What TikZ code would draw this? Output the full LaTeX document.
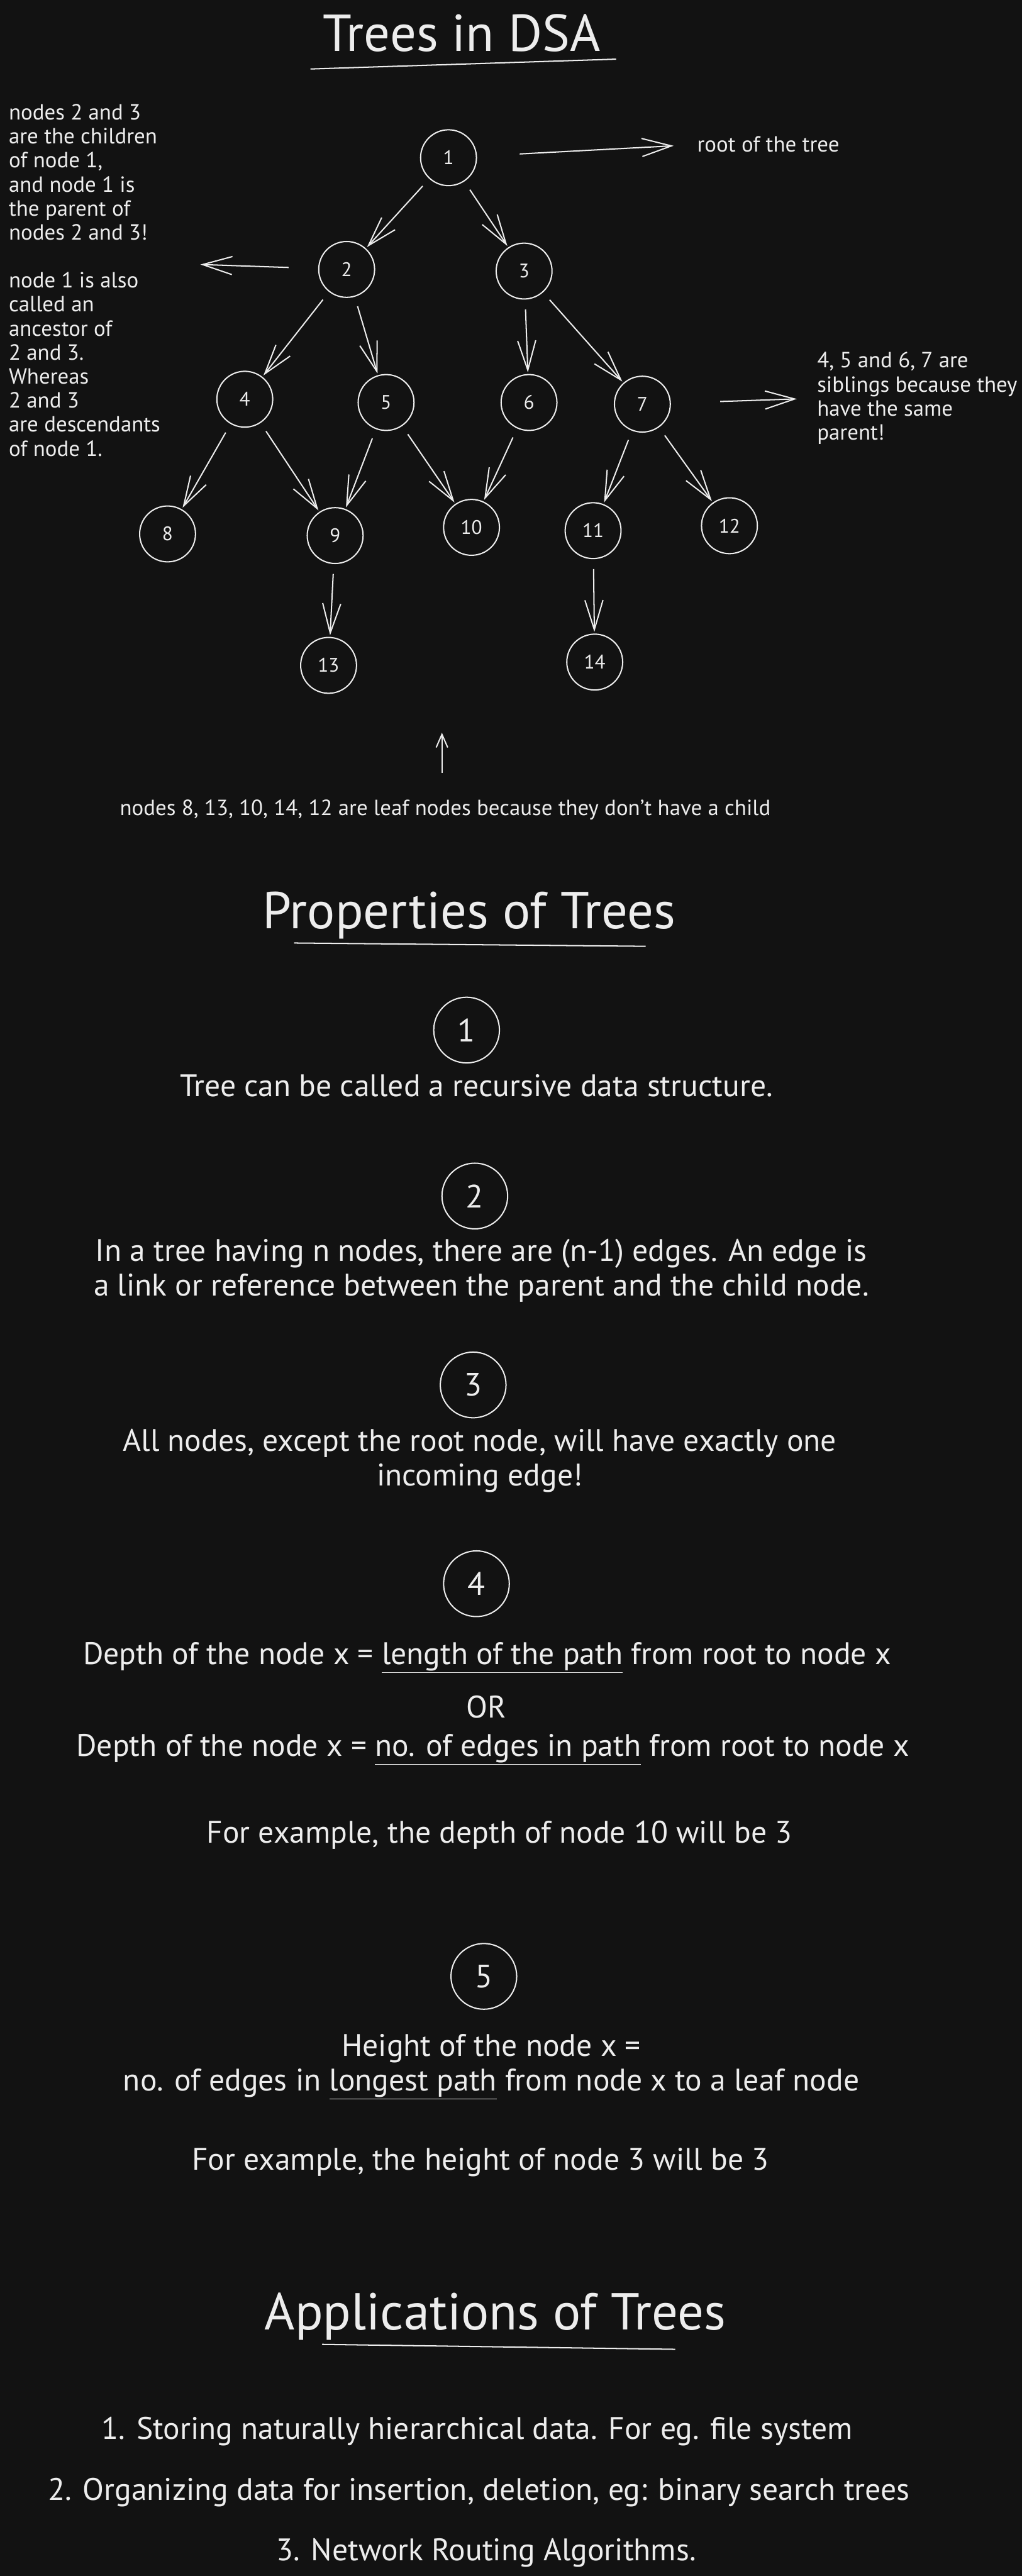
\documentclass[tikz,border=0pt]{standalone}
\usepackage{fontspec}
\setmainfont{PT Sans}
\usetikzlibrary{arrows.meta}
\definecolor{board}{HTML}{121212}
\definecolor{chalk}{HTML}{EDEDED}
\begin{document}
\begin{tikzpicture}[x=0.5mm, y=-0.5mm, line width=1.1pt, chalk,
    >={Straight Barb[length=9mm, width=5.5mm]},
    tnode/.style={circle, draw, minimum size=17mm, inner sep=0pt, font=\fontsize{17}{19}\selectfont},
    pnode/.style={circle, draw, minimum size=20mm, inner sep=0pt, font=\fontsize{28}{30}\selectfont},
    link/.style={->, shorten <=3mm, shorten >=0.5mm},
    note/.style={align=left, inner sep=0pt, font=\fontsize{19}{20.8}\selectfont},
    prop/.style={align=center, inner sep=0pt, font=\fontsize{27}{30}\selectfont},
    heading/.style={inner sep=0pt, font=\fontsize{45}{48}\selectfont}]
  \useasboundingbox[fill=board] (0,0) rectangle (622,1568);

  \node[heading] (treeTitle) at (281,20) {Trees in DSA};
  \draw (189,42) -- (375,36);

  \node[tnode] (n1) at (273,96) {1};
  \node[tnode] (n2) at (211,164) {2};
  \node[tnode] (n3) at (319,165) {3};
  \node[tnode] (n4) at (149,243) {4};
  \node[tnode] (n5) at (235,245) {5};
  \node[tnode] (n6) at (322,245) {6};
  \node[tnode] (n7) at (391,246) {7};
  \node[tnode] (n8) at (102,325) {8};
  \node[tnode] (n9) at (204,326) {9};
  \node[tnode] (n10) at (287,321) {10};
  \node[tnode] (n11) at (361,323) {11};
  \node[tnode] (n12) at (444,320) {12};
  \node[tnode] (n13) at (200,405) {13};
  \node[tnode] (n14) at (362,403) {14};

  \draw[link] (n1) -- (n2);
  \draw[link] (n1) -- (n3);
  \draw[link] (n2) -- (n4);
  \draw[link] (n2) -- (n5);
  \draw[link] (n3) -- (n6);
  \draw[link] (n3) -- (n7);
  \draw[link] (n4) -- (n8);
  \draw[link] (n4) -- (n9);
  \draw[link] (n5) -- (n9);
  \draw[link] (n5) -- (n10);
  \draw[link] (n6) -- (n10);
  \draw[link] (n7) -- (n11);
  \draw[link] (n7) -- (n12);
  \draw[link] (n9) -- (n13);
  \draw[link] (n11) -- (n14);

  \node[note, anchor=west] (rootNote) at (424,88) {root of the tree};
  \draw[->, shorten <=13mm, shorten >=7mm] (n1) -- (rootNote.west);

  \node[note, anchor=north west] (kinNote) at (5,63) {nodes 2 and 3\\are the children\\of node 1,\\and node 1 is\\the parent of\\nodes 2 and 3!\\[20.8pt]node 1 is also\\called an\\ancestor of\\2 and 3.\\Whereas\\2 and 3\\are descendants\\of node 1.};
  \coordinate (kinTip) at (122,161);
  \draw[->, shorten <=9mm] (n2) -- (kinTip);

  \node[note, anchor=north west] (sibNote) at (497,214) {4, 5 and 6, 7 are\\siblings because they\\have the same\\parent!};
  \draw[->, shorten <=15mm, shorten >=6mm] (n7) -- (sibNote.west);

  \node[note] (leafNote) at (271,493) {nodes 8, 13, 10, 14, 12 are leaf nodes because they don't have a child};
  \coordinate (leafTip) at (269,446);
  \draw[-{Straight Barb[length=4mm, width=3.5mm]}, shorten <=8mm] (leafNote.north -| leafTip) -- (leafTip);

  \node[heading] (propTitle) at (285.5,557) {Properties of Trees};
  \draw (179,574) -- (393,576);

  \node[pnode] (p1) at (284,627) {1};
  \node[prop] (p1Text) at (290,661) {Tree can be called a recursive data structure.};

  \node[pnode] (p2) at (289,728) {2};
  \node[prop] (p2Text) at (293,773.5) {In a tree having n nodes, there are (n-1) edges. An edge is\\a link or reference between the parent and the child node.};

  \node[pnode] (p3) at (288,843) {3};
  \node[prop] (p3Text) at (292,889) {All nodes, except the root node, will have exactly one\\incoming edge!};

  \node[pnode] (p4) at (290,964) {4};
  \node[prop] (depthA) at (296.5,1009) {Depth of the node x = \underline{length of the path} from root to node x};
  \node[prop] (orText) at (296,1039) {OR};
  \node[prop] (depthB) at (300,1065) {Depth of the node x = \underline{no. of edges in path} from root to node x};
  \node[prop] (depthEx) at (304,1117) {For example, the depth of node 10 will be 3};

  \node[pnode] (p5) at (294.5,1203) {5};
  \node[prop] (heightDef) at (299,1258) {Height of the node x =\\no. of edges in \underline{longest path} from node x to a leaf node};
  \node[prop] (heightEx) at (292.5,1316) {For example, the height of node 3 will be 3};

  \node[heading] (appTitle) at (301.5,1410) {Applications of Trees};
  \draw (196,1427) -- (411,1430);

  \node[prop] (app1) at (290.5,1480) {1. Storing naturally hierarchical data. For eg. file system};
  \node[prop] (app2) at (291.5,1517) {2. Organizing data for insertion, deletion, eg: binary search trees};
  \node[prop] (app3) at (296,1554) {3. Network Routing Algorithms.};
\end{tikzpicture}
\end{document}
